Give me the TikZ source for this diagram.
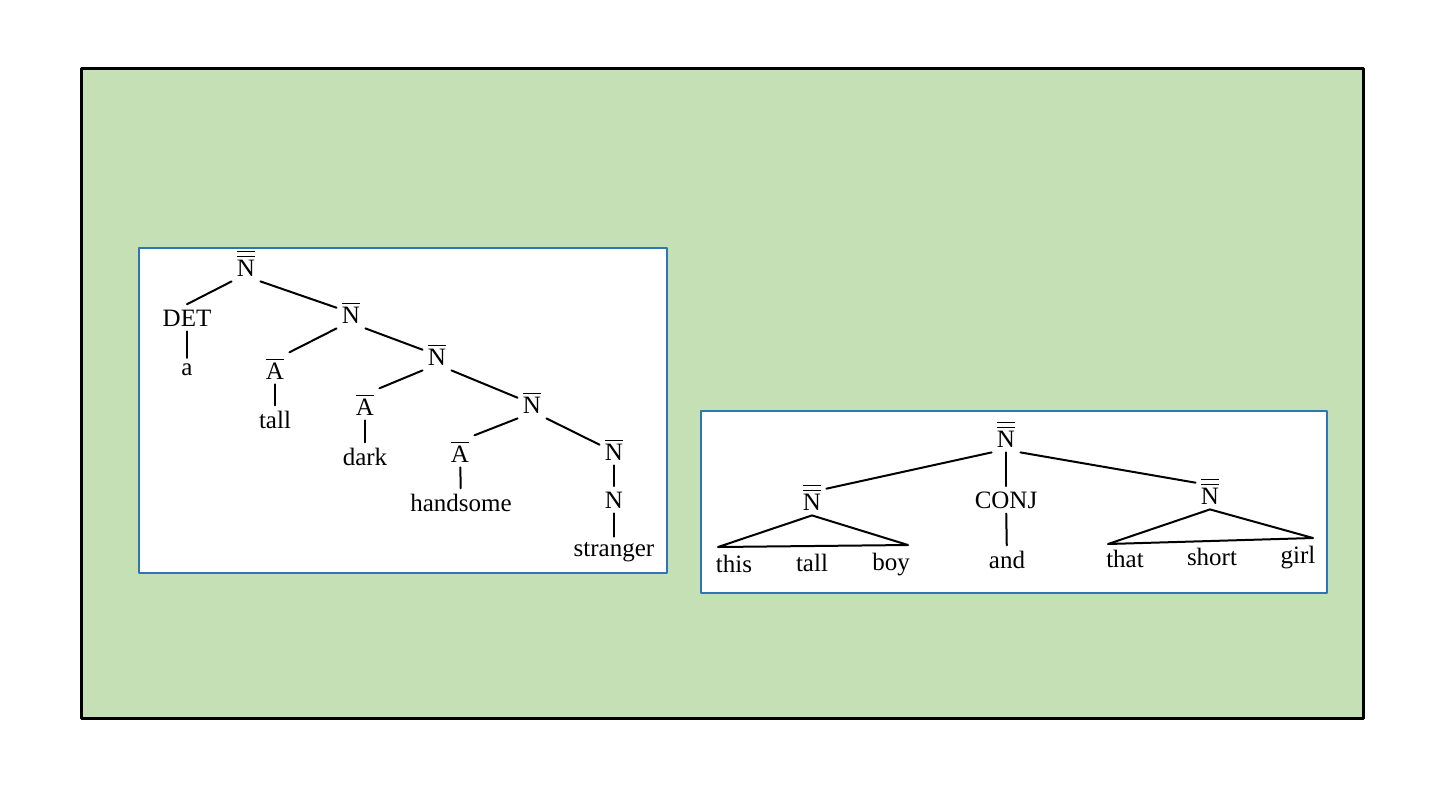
\documentclass[tikz,border=0pt]{standalone}
\usepackage{amsmath}
\usepackage{fontspec}
\setmainfont{Liberation Serif}
\definecolor{slidegreen}{HTML}{C5E0B4}
\definecolor{panelblue}{HTML}{2E75B6}
\newcommand{\nbar}{$\overline{\text{N}}$}
\newcommand{\nbarbar}{$\overline{\overline{\text{N}}}$}
\newcommand{\abar}{$\overline{\text{A}}$}

\begin{document}
\begin{tikzpicture}[x=0.5pt,y=-0.5pt,line cap=round,line join=round,
  every node/.style={font=\fontsize{12.5}{14}\selectfont,anchor=base,inner sep=2.5pt}]
\fill[white] (0,0) rectangle (1440,810);
\draw[line width=1.5pt,fill=slidegreen] (81,68) rectangle (1363,718);
\draw[panelblue,line width=0.6pt,fill=white] (139,248) rectangle (667,573);
\draw[panelblue,line width=0.6pt,fill=white] (701,411) rectangle (1327,593);

\node (top) at (246,276) {\nbarbar};
\node (det) at (187,326) {DET};
\node (a) at (187,375) {a};
\node (nb1) at (351,323) {\nbar};
\node (ab1) at (275,379) {\abar};
\node (tall) at (275,428) {tall};
\node (nb2) at (437,365) {\nbar};
\node (ab2) at (365,415) {\abar};
\node (dark) at (365,465) {dark};
\node (nb3) at (532,413) {\nbar};
\node (ab3) at (460,462) {\abar};
\node (hand) at (461,511) {handsome};
\node (nb4) at (614,460) {\nbar};
\node (n) at (614,508) {N};
\node (str) at (614,556) {stranger};
\draw[line width=1pt] (top.south west) -- (det.north);
\draw[line width=1pt] (top.south east) -- (nb1.162);
\draw[line width=1pt] (det) -- (a);
\draw[line width=1pt] (nb1.south west) -- (ab1.north east);
\draw[line width=1pt] (nb1.south east) -- (nb2.162);
\draw[line width=1pt] (ab1) -- (tall);
\draw[line width=1pt] (nb2.south west) -- (ab2.north east);
\draw[line width=1pt] (nb2.south east) -- (nb3.162);
\draw[line width=1pt] (ab2) -- (dark);
\draw[line width=1pt] (nb3.south west) -- (ab3.north east);
\draw[line width=1pt] (nb3.south east) -- (nb4.162);
\draw[line width=1pt] (ab3) -- (hand);
\draw[line width=1pt] (nb4) -- (n);
\draw[line width=1pt] (n) -- (str);

\node (rtop) at (1006,447) {\nbarbar};
\node (lnp) at (812,510) {\nbarbar};
\node (conj) at (1006,508) {CONJ};
\node (rnp) at (1210,504) {\nbarbar};
\node (this) at (734,572) {this};
\node (tall2) at (812,571) {tall};
\node (boy) at (891,570) {boy};
\node (and) at (1007,568) {and};
\node (that) at (1125,567) {that};
\node (short) at (1212,565) {short};
\node (girl) at (1298,563) {girl};
\coordinate (lbl) at (718,547);
\coordinate (lbr) at (908,545);
\coordinate (rbl) at (1108,544);
\coordinate (rbr) at (1313,538);
\draw[line width=1pt] (rtop.south west) -- (lnp.30);
\draw[line width=1pt] (rtop) -- (conj);
\draw[line width=1pt] (rtop.south east) -- (rnp.150);
\draw[line width=1pt] (conj) -- (and);
\draw[line width=1pt] (lbl) -- (lnp.south) -- (lbr) -- cycle;
\draw[line width=1pt] (rbl) -- (rnp.south) -- (rbr) -- cycle;
\end{tikzpicture}
\end{document}
